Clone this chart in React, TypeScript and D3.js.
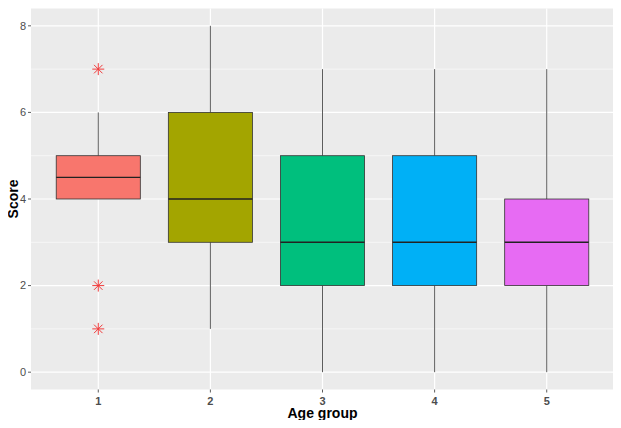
import { useEffect, useRef } from "react";
import * as d3 from "d3";

const groups = ["1", "2", "3", "4", "5"];
const lowerWhisker = [4, 1, 0, 0, 0];
const q1 = [4, 3, 2, 2, 2];
const medians = [4.5, 4, 3, 3, 3];
const q3 = [5, 6, 5, 5, 4];
const upperWhisker = [6, 8, 7, 7, 7];
const fills = ["#F8766D", "#A3A500", "#00BF7D", "#00B0F6", "#E76BF3"];
const outlierGroups = ["1", "1", "1"];
const outlierValues = [7, 2, 1];
const yTicks = [0, 2, 4, 6, 8];
const yMinor = [1, 3, 5, 7];

export default function App() {
  const svgRef = useRef<SVGSVGElement>(null);

  useEffect(() => {
    if (!svgRef.current) return;
    const svg = d3.select(svgRef.current);
    svg.selectAll("*").remove();

    const W = 621;
    const H = 428;
    const left = 31;
    const right = 614;
    const top = 8.5;
    const bottom = 389.5;

    svg.attr("width", W).attr("height", H).style("font-family", "Liberation Sans, Arial, sans-serif");
    svg.append("rect").attr("width", W).attr("height", H).attr("fill", "#fff");

    const x = d3.scaleLinear().domain([0.4, 5.6]).range([left, right]);
    const xPos = (g: string) => x(groups.indexOf(g) + 1);
    const y = d3.scaleLinear().domain([-0.4, 8.4]).range([bottom, top]);

    svg.append("rect")
      .attr("x", left).attr("y", top)
      .attr("width", right - left).attr("height", bottom - top)
      .attr("fill", "#EBEBEB");

    // gridlines
    const grid = svg.append("g");
    grid.selectAll("line.minor").data(yMinor).enter().append("line")
      .attr("x1", left).attr("x2", right)
      .attr("y1", (d) => y(d)).attr("y2", (d) => y(d))
      .attr("stroke", "#fff").attr("stroke-width", 0.6);
    grid.selectAll("line.major").data(yTicks).enter().append("line")
      .attr("x1", left).attr("x2", right)
      .attr("y1", (d) => y(d)).attr("y2", (d) => y(d))
      .attr("stroke", "#fff").attr("stroke-width", 1.2);
    grid.selectAll("line.vmajor").data(groups).enter().append("line")
      .attr("x1", (d) => xPos(d)).attr("x2", (d) => xPos(d))
      .attr("y1", top).attr("y2", bottom)
      .attr("stroke", "#fff").attr("stroke-width", 1.2);

    const boxW = x(1.75) - x(1);
    const boxes = svg.append("g");
    groups.forEach((g, i) => {
      const cx = xPos(g);
      boxes.append("line")
        .attr("x1", cx).attr("x2", cx)
        .attr("y1", y(upperWhisker[i])).attr("y2", y(q3[i]))
        .attr("stroke", "#333").attr("stroke-width", 0.8);
      boxes.append("line")
        .attr("x1", cx).attr("x2", cx)
        .attr("y1", y(q1[i])).attr("y2", y(lowerWhisker[i]))
        .attr("stroke", "#333").attr("stroke-width", 0.8);
      boxes.append("rect")
        .attr("x", cx - boxW / 2).attr("width", boxW)
        .attr("y", y(q3[i])).attr("height", y(q1[i]) - y(q3[i]))
        .attr("fill", fills[i]).attr("stroke", "#333").attr("stroke-width", 0.8);
      boxes.append("line")
        .attr("x1", cx - boxW / 2).attr("x2", cx + boxW / 2)
        .attr("y1", y(medians[i])).attr("y2", y(medians[i]))
        .attr("stroke", "#222").attr("stroke-width", 1.4);
    });

    // asterisk outliers (pch 8)
    const r = 6;
    outlierValues.forEach((v, i) => {
      const cx = xPos(outlierGroups[i]);
      const cy = y(v);
      [0, 45, 90, 135].map((a) => (a * Math.PI) / 180).forEach((a) => {
        svg.append("line")
          .attr("x1", cx - r * Math.cos(a)).attr("x2", cx + r * Math.cos(a))
          .attr("y1", cy - r * Math.sin(a)).attr("y2", cy + r * Math.sin(a))
          .attr("stroke", "#F03C3C").attr("stroke-width", 1);
      });
    });

    // y axis
    const yAxis = svg.append("g");
    yTicks.forEach((t) => {
      yAxis.append("line")
        .attr("x1", left - 3).attr("x2", left)
        .attr("y1", y(t)).attr("y2", y(t))
        .attr("stroke", "#333").attr("stroke-width", 0.8);
      yAxis.append("text")
        .attr("x", left - 5).attr("y", y(t))
        .attr("dy", "0.35em").attr("text-anchor", "end")
        .attr("font-size", 11).attr("fill", "#4D4D4D")
        .text(t);
    });

    // x axis
    const xAxis = svg.append("g");
    groups.forEach((g) => {
      xAxis.append("line")
        .attr("x1", xPos(g)).attr("x2", xPos(g))
        .attr("y1", bottom).attr("y2", bottom + 3)
        .attr("stroke", "#333").attr("stroke-width", 0.8);
      xAxis.append("text")
        .attr("x", xPos(g)).attr("y", bottom + 15)
        .attr("text-anchor", "middle")
        .attr("font-size", 11).attr("font-weight", "bold").attr("fill", "#4D4D4D")
        .text(g);
    });

    svg.append("text")
      .attr("x", (left + right) / 2).attr("y", 418)
      .attr("text-anchor", "middle")
      .attr("font-size", 14).attr("font-weight", "bold").attr("fill", "#000")
      .text("Age group");

    svg.append("text")
      .attr("transform", `translate(18,${(top + bottom) / 2}) rotate(-90)`)
      .attr("text-anchor", "middle")
      .attr("font-size", 14).attr("font-weight", "bold").attr("fill", "#000")
      .text("Score");
  }, []);

  return <svg ref={svgRef} style={{ display: "block", margin: -8 }} />;
}
